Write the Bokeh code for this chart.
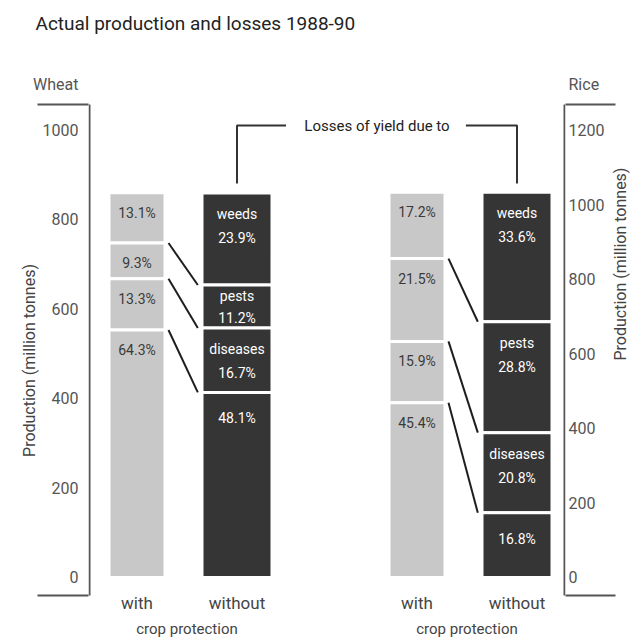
import math
from bokeh.plotting import figure
from bokeh.models import (FactorRange, Range1d, LinearAxis, ColumnDataSource, FixedTicker, Title)
from bokeh.core.properties import value
from bokeh.embed import file_html
from bokeh.resources import INLINE

# ---------------- data ----------------
TITLE = "Actual production and losses 1988-90"
crops = ["Wheat", "Rice"]
protection = ["with", "without"]
group_label = "crop protection"
segment_names = ["weeds", "pests", "diseases", ""]      # top to bottom ("" = actual production)
attainable = [861, 1034]                                # bar heights, million tonnes
wheat_with = [13.1, 9.3, 13.3, 64.3]
wheat_without = [23.9, 11.2, 16.7, 48.1]
rice_with = [17.2, 21.5, 15.9, 45.4]
rice_without = [33.6, 28.8, 20.8, 16.8]
wheat_ticks = [0, 200, 400, 600, 800, 1000]
rice_ticks = [0, 200, 400, 600, 800, 1000, 1200]
y_title = "Production (million tonnes)"
losses_title = "Losses of yield due to"

shares = {("Wheat", "with"): wheat_with, ("Wheat", "without"): wheat_without,
          ("Rice", "with"): rice_with, ("Rice", "without"): rice_without}

# ---------------- layout ----------------
FONT = "Roboto"
W, H = 643, 637
B_L, B_R, B_T, B_B = 88, 78, 83, 0
frame_w = W - B_L - B_R
frame_h = H - B_T - B_B
UNIT = 70.0                       # px per category unit
FP, GP = 100 / UNIT - 1, 180 / UNIT - 1
RP = (frame_w / UNIT - (4 + 2 * FP + GP)) / 2   # padding on each side
X0 = -RP

def sx(px):                       # px from frame left -> synthetic x
    return X0 + px / UNIT

PX_PER = 0.447                    # px per million tonnes of wheat
ZERO_Y = 577                      # page y of the zero line
RICE_K = 1.2

def wy(img_y):                    # page y -> wheat value
    return (ZERO_Y - img_y) / PX_PER

LIGHT, DARK = "#c8c8c8", "#353535"
AX = "#555555"

factors = [(crop, prot) for crop in crops for prot in protection]
x_range = FactorRange(factors=factors, factor_padding=FP, group_padding=GP,
                      range_padding=RP, range_padding_units="absolute")

Y_START, Y_END = wy(B_T + frame_h), wy(B_T)
p = figure(width=W, height=H, x_range=x_range, y_range=Range1d(Y_START, Y_END),
           output_backend="svg", toolbar_location=None,
           x_axis_location=None, y_axis_location=None,
           min_border=0, min_border_left=B_L, min_border_right=B_R,
           min_border_top=B_T, min_border_bottom=B_B)
p.extra_y_ranges = {"rice": Range1d(Y_START * RICE_K, Y_END * RICE_K)}
p.outline_line_color = None
p.background_fill_color = "white"
p.border_fill_color = "white"
p.xgrid.visible = False
p.ygrid.visible = False

# spacer between the frame and the title, so the title sits at the top
p.add_layout(Title(text=" ", text_font_size="1px", standoff=43), "above")

p.title.text = TITLE
p.title.text_font = FONT
p.title.text_font_size = "19px"
p.title.text_font_style = "normal"
p.title.text_color = "#222222"
p.title.offset = 35 - B_L
p.title.standoff = 6

# ---------------- bars ----------------
for ci, crop in enumerate(crops):
    rng = "default" if ci == 0 else "rice"
    scale_px = PX_PER if ci == 0 else PX_PER / RICE_K
    total = attainable[ci]
    bars = dict(x=[], top=[], bottom=[], color=[], width=[])
    lab = dict(x=[], y=[], name=[], pct=[], name_off=[], pct_off=[], tcolor=[])
    for prot in protection:
        pcts = shares[(crop, prot)]
        f = (crop, prot)
        for j, pc in enumerate(pcts):
            top = total * sum(pcts[j:]) / 100.0
            bottom = total * sum(pcts[j + 1:]) / 100.0
            bars["x"].append(f)
            bars["top"].append(top)
            bars["bottom"].append(bottom)
            bars["color"].append(LIGHT if prot == "with" else DARK)
            bars["width"].append(0.8 if prot == "with" else 1.0)
            lab["x"].append(f)
            lab["y"].append(top)
            lab["pct"].append(f"{pc}%")
            if prot == "with":
                lab["name"].append("")
                lab["name_off"].append(0)
                lab["pct_off"].append(20)
                lab["tcolor"].append("#3a3a3a")
            else:
                name = segment_names[j]
                lab["name"].append(name)
                hpx = (top - bottom) * scale_px
                if name == "":
                    lab["name_off"].append(0)
                    lab["pct_off"].append(26)
                elif hpx < 60:
                    lab["name_off"].append(11)
                    lab["pct_off"].append(33)
                else:
                    lab["name_off"].append(21)
                    lab["pct_off"].append(45)
                lab["tcolor"].append("white")
    src = ColumnDataSource(bars)
    p.vbar(x="x", top="top", bottom="bottom", width="width", source=src,
           fill_color="color", line_color="white", line_width=3, y_range_name=rng)
    lsrc = ColumnDataSource(lab)
    p.text(x="x", y="y", text="pct", source=lsrc, y_offset="pct_off",
           text_align="center", text_baseline="middle", text_color="tcolor",
           text_font=value(FONT), text_font_size="14px", y_range_name=rng)
    p.text(x="x", y="y", text="name", source=lsrc, y_offset="name_off",
           text_align="center", text_baseline="middle", text_color="tcolor",
           text_font=value(FONT), text_font_size="14px", y_range_name=rng)

    # connectors between matching boundaries
    w_p = shares[(crop, "with")]
    wo_p = shares[(crop, "without")]
    con = dict(x0=[], y0=[], x1=[], y1=[])
    for j in range(1, 4):
        con["x0"].append((crop, "with", 0.45))
        con["x1"].append((crop, "without", -0.56))
        con["y0"].append(total * sum(w_p[j:]) / 100.0)
        con["y1"].append(total * sum(wo_p[j:]) / 100.0)
    p.segment(x0="x0", y0="y0", x1="x1", y1="y1", source=ColumnDataSource(con),
              line_color="#1e1e1e", line_width=2, y_range_name=rng)

# ---------------- category labels under the bars ----------------
p.text(x=factors, y=[wy(602)] * len(factors), text=[f[1] for f in factors],
       text_align="center", text_baseline="middle", text_font=value(FONT),
       text_font_size="17px", text_color="#444444")
p.text(x=crops, y=[wy(628)] * len(crops), text=[group_label] * len(crops),
       text_align="center", text_baseline="middle", text_font=value(FONT),
       text_font_size="15px", text_color="#444444")

# ---------------- bracket "Losses of yield due to" ----------------
BR_Y, BR_LOW = wy(125), wy(183)
wo_w = (crops[0], "without")
wo_r = (crops[1], "without")
p.line(x=[wo_w + (0,), wo_w + (0,), wo_w + (0.7,)], y=[BR_LOW, BR_Y, BR_Y],
       line_color="#333333", line_width=2)
p.line(x=[wo_r + (-0.73,), wo_r + (0,), wo_r + (0,)], y=[BR_Y, BR_Y, BR_LOW],
       line_color="#333333", line_width=2)
p.text(x=[wo_w + (2.0,)], y=[BR_Y], text=[losses_title], text_align="center",
       text_baseline="middle", text_font=value(FONT), text_font_size="15px",
       text_color="#222222")

# ---------------- axes ----------------
CAP_T, CAP_B = wy(104), wy(595)
NAME_Y = round(wy(84))            # crop name written at the top of each axis

# vertical axis lines (frame edges)
p.segment(x0=[sx(1), sx(frame_w - 1)], x1=[sx(1), sx(frame_w - 1)],
          y0=[CAP_B, CAP_B], y1=[CAP_T, CAP_T], line_color=AX, line_width=2)

def style_lin(ax):
    ax.axis_line_color = None
    ax.major_tick_line_color = None
    ax.major_tick_out = 0
    ax.major_tick_in = 0
    ax.minor_tick_in = 0
    ax.minor_tick_line_color = AX
    ax.minor_tick_line_width = 2
    ax.major_label_text_font = FONT
    ax.major_label_text_font_size = "16px"
    ax.major_label_text_color = "#555555"
    ax.axis_label_text_font = FONT
    ax.axis_label_text_font_size = "16px"
    ax.axis_label_text_font_style = "normal"
    ax.axis_label_text_color = "#444444"

wax = LinearAxis(ticker=FixedTicker(ticks=wheat_ticks + [NAME_Y], minor_ticks=[CAP_B, CAP_T]),
                 bounds=(Y_START, NAME_Y), axis_label=y_title,
                 major_label_overrides={NAME_Y: crops[0]})
style_lin(wax)
wax.minor_tick_out = 51
wax.major_label_standoff = 10 - 51
wax.axis_label_standoff = -9
p.add_layout(wax, "left")

R_NAME_Y = round(NAME_Y * RICE_K)
rax = LinearAxis(y_range_name="rice",
                 ticker=FixedTicker(ticks=rice_ticks + [R_NAME_Y],
                                    minor_ticks=[CAP_B * RICE_K, CAP_T * RICE_K]),
                 bounds=(Y_START * RICE_K, R_NAME_Y), axis_label=y_title,
                 axis_label_orientation=math.pi / 2,
                 major_label_overrides={R_NAME_Y: crops[1]})
style_lin(rax)
rax.minor_tick_out = 50
rax.major_label_standoff = 3 - 50
rax.axis_label_standoff = 13
p.add_layout(rax, "right")

open("out.html", "w").write(file_html(p, INLINE))
